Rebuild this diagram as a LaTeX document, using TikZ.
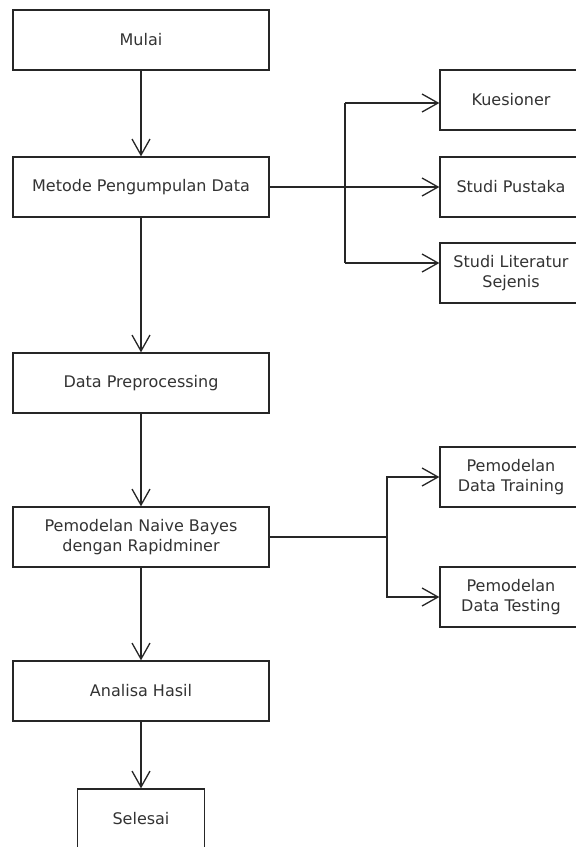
\documentclass[tikz,border=0pt]{standalone}
\usepackage{fontspec}
\setmainfont{DejaVu Sans}
\usetikzlibrary{arrows.meta}
\definecolor{ln}{HTML}{262626}
\definecolor{tx}{HTML}{333333}
\begin{document}
\begin{tikzpicture}[x=1pt,y=-1pt,
  box/.style={draw=ln, line width=1.3pt, fill=white, text=tx, align=center,
    inner sep=0pt, minimum height=60pt,
    font=\fontsize{16}{20}\selectfont},
  mainbox/.style={box, minimum width=256pt},
  sidebox/.style={box, minimum width=142pt},
  con/.style={draw=ln, line width=1.3pt},
  arr/.style={con, -{Straight Barb[length=16pt,width=18pt]}}]
\path[use as bounding box, clip] (0,0) rectangle (576,847);
\fill[white] (0,0) rectangle (576,847);
% main column
\node[mainbox] (mulai) at (141,40) {Mulai};
\node[mainbox] (metode) at (141,187) {Metode Pengumpulan Data};
\node[mainbox] (prep) at (141,383) {Data Preprocessing};
\node[mainbox] (nb) at (141,537) {Pemodelan Naive Bayes\\dengan Rapidminer};
\node[mainbox] (analisa) at (141,691) {Analisa Hasil};
\node[box, minimum width=127pt] (selesai) at (141,819) {Selesai};
% side boxes
\node[sidebox] (kues) at (511,100) {Kuesioner};
\node[sidebox] (pustaka) at (511,187) {Studi Pustaka};
\node[sidebox] (lit) at (511,273) {Studi Literatur\\Sejenis};
\node[sidebox] (train) at (511,477) {Pemodelan\\Data Training};
\node[sidebox] (test) at (511,597) {Pemodelan\\Data Testing};
% main arrows
\draw[arr] (mulai) -- (metode);
\draw[arr] (metode) -- (prep);
\draw[arr] (prep) -- (nb);
\draw[arr] (nb) -- (analisa);
\draw[arr] (analisa) -- (selesai);
% first branch
\coordinate (b1t) at (345,103);
\coordinate (b1b) at (345,263);
\draw[arr] (metode.east) -- (pustaka.west);
\draw[con] (b1t) -- (b1b);
\draw[arr] (b1t) -- (kues.west |- b1t);
\draw[arr] (b1b) -- (lit.west |- b1b);
% second branch
\coordinate (b2) at (387,537);
\draw[con] (nb.east) -- (b2);
\draw[arr] (b2) |- (train.west);
\draw[arr] (b2) |- (test.west);
\end{tikzpicture}
\end{document}
